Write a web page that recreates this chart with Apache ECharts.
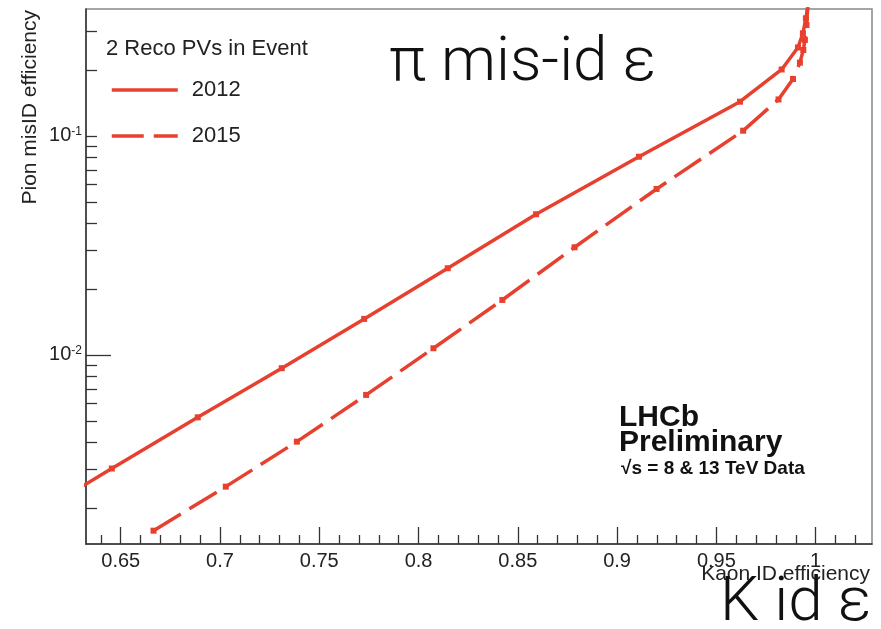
<!DOCTYPE html>
<html><head><meta charset="utf-8">
<script src="https://cdn.jsdelivr.net/npm/echarts@6/dist/echarts.min.js"></script>
<style>html,body{margin:0;padding:0;background:#fff}#c{width:881px;height:629px}</style>
</head><body><div id="c"></div>
<script>
// ---- data ----
const seriesNames = ['2012', '2015'];
const x2012 = [0.6245, 0.6455, 0.6888, 0.7311, 0.7726, 0.8147, 0.8592, 0.9110, 0.9619, 0.9829, 0.9911, 0.9936, 0.9951, 0.9962];
const y2012 = [0.00233, 0.00303, 0.00519, 0.00870, 0.01461, 0.02488, 0.04391, 0.0804, 0.1434, 0.2012, 0.2536, 0.2944, 0.3446, 0.40];
const x2015 = [0.6665, 0.7029, 0.7387, 0.7736, 0.8075, 0.8422, 0.8786, 0.9199, 0.9635, 0.9813, 0.9886, 0.9921, 0.9938, 0.9946, 0.9954, 0.9962];
const y2015 = [0.001576, 0.002504, 0.004019, 0.006568, 0.01073, 0.01783, 0.03102, 0.05728, 0.1057, 0.1468, 0.182, 0.2162, 0.247, 0.2745, 0.321, 0.40];
const xTickLabels = [0.65, 0.7, 0.75, 0.8, 0.85, 0.9, 0.95, 1];
const yTickLabels = [0.01, 0.1];
const xRange = [0.6325, 1.0284];
const yRange = [0.00137, 0.38];

// ---- helpers ----
const zip = (xs, ys) => xs.map((x, i) => [x, ys[i]]);
const xMinor = [];
for (let i = Math.ceil(xRange[0] * 100); i <= Math.floor(xRange[1] * 100); i++) {
  if (i % 5 !== 0) xMinor.push(i / 100);
}
const yMinorLog = [];
for (let n = -3; n <= -1; n++) {
  for (let k = 1; k <= 9; k++) {
    const v = k * Math.pow(10, n);
    if (v >= yRange[0] && v <= yRange[1] && !(n === -2 && k === 1)) yMinorLog.push(Math.log10(v));
  }
}
const FONT = '"Liberation Sans", Arial, sans-serif';
const RED = '#e8402f';

const chart = echarts.init(document.getElementById('c'), null, {renderer: 'canvas'});
chart.setOption({
  animation: false,
  backgroundColor: '#fff',
  grid: {left: 86, right: 9, top: 9, bottom: 85, containLabel: false, outerBoundsMode: 'none',
    show: true, borderColor: '#888', borderWidth: 1.5, backgroundColor: 'transparent'},
  legend: {
    orient: 'vertical', left: 105, top: 74, itemWidth: 66, itemHeight: 14, itemGap: 24,
    selectedMode: false,
    textStyle: {fontSize: 22, fontFamily: FONT, color: '#222', padding: [0, 0, 0, 9], lineHeight: 22},
    itemStyle: {opacity: 0},
    lineStyle: {width: 3.5},
    data: seriesNames
  },
  xAxis: [{
    type: 'value', min: xRange[0], max: xRange[1],
    axisLine: {show: true, onZero: false, lineStyle: {color: '#333', width: 1.5}},
    axisTick: {show: true, inside: true, length: 17, customValues: xTickLabels, lineStyle: {color: '#333', width: 1.3}},
    axisLabel: {show: true, customValues: xTickLabels, margin: 7, fontSize: 20, fontFamily: FONT, color: '#222',
      formatter: v => String(parseFloat(Number(v).toFixed(2)))},
    splitLine: {show: false}
  }, {
    type: 'value', min: xRange[0], max: xRange[1], position: 'bottom', offset: 0,
    axisLine: {show: false}, axisLabel: {show: false}, splitLine: {show: false},
    axisTick: {show: true, inside: true, length: 9, customValues: xMinor, lineStyle: {color: '#333', width: 1.3}}
  }],
  yAxis: [{
    type: 'log', logBase: 10, min: yRange[0], max: yRange[1], position: 'left', offset: 0,
    axisLine: {show: true, onZero: false, lineStyle: {color: '#333', width: 1.5}},
    axisTick: {show: false},
    splitLine: {show: false},
    axisLabel: {
      show: true, margin: 4, fontFamily: FONT, color: '#222',
      formatter: v => {
        const l = Math.log10(v), e = Math.round(l);
        if (Math.abs(l - e) > 1e-6) return '';
        if (!yTickLabels.some(t => Math.abs(t - Math.pow(10, e)) < 1e-12)) return '';
        return '{b|10}{s|' + e + '}';
      },
      rich: {
        b: {fontSize: 20, fontFamily: FONT, color: '#222'},
        s: {fontSize: 12, fontFamily: FONT, color: '#222', verticalAlign: 'top', padding: [0, 0, 6, 0]}
      }
    }
  }, {
    type: 'value', min: Math.log10(yRange[0]), max: Math.log10(yRange[1]), position: 'left', offset: 0,
    axisLine: {show: false}, axisLabel: {show: false}, splitLine: {show: false},
    axisTick: {show: true, inside: true, length: 11, customValues: yMinorLog, lineStyle: {color: '#333', width: 1.3}}
  }, {
    type: 'value', min: Math.log10(yRange[0]), max: Math.log10(yRange[1]), position: 'left', offset: 0,
    axisLine: {show: false}, axisLabel: {show: false}, splitLine: {show: false},
    axisTick: {show: true, inside: true, length: 25, customValues: yTickLabels.filter(t => t < 0.05).map(t => Math.log10(t)), lineStyle: {color: '#333', width: 1.3}}
  }],
  series: [{
    name: seriesNames[0], type: 'line', data: zip(x2012, y2012), clip: true,
    symbol: 'rect', symbolSize: 6, showSymbol: true,
    lineStyle: {color: RED, width: 3.5, type: 'solid'},
    itemStyle: {color: RED}
  }, {
    name: seriesNames[1], type: 'line', data: zip(x2015, y2015), clip: true,
    symbol: 'rect', symbolSize: 6, showSymbol: true,
    lineStyle: {color: RED, width: 3.5, type: [32, 10]},
    itemStyle: {color: RED}
  }],
  graphic: [
    {type: 'text', x: 30, y: 10, rotation: Math.PI / 2,
      style: {text: 'Pion misID efficiency', font: '21px ' + FONT, fill: '#222', align: 'right', verticalAlign: 'middle'}},
    {type: 'text', x: 870, y: 574,
      style: {text: 'Kaon ID efficiency', font: '21px ' + FONT, fill: '#222', align: 'right', verticalAlign: 'middle'}},
    {type: 'text', x: 106, y: 49,
      style: {text: '2 Reco PVs in Event', font: '22px ' + FONT, fill: '#222', align: 'left', verticalAlign: 'middle'}},
    {type: 'text', x: 619, y: 417.5,
      style: {text: 'LHCb', font: 'bold 30px ' + FONT, fill: '#111', align: 'left', verticalAlign: 'middle'}},
    {type: 'text', x: 619, y: 443,
      style: {text: 'Preliminary', font: 'bold 30px ' + FONT, fill: '#111', align: 'left', verticalAlign: 'middle'}},
    {type: 'text', x: 621, y: 469,
      style: {text: '\u221As = 8 & 13 TeV Data', font: 'bold 19px ' + FONT, fill: '#111', align: 'left', verticalAlign: 'middle'}},
    {type: 'text', x: 389, y: 64,
      style: {text: '\u03C0 mis-id \u03B5', font: '300 62px Roboto, Lato, "Open Sans", sans-serif', fill: '#111', align: 'left', verticalAlign: 'middle'}},
    {type: 'text', x: 720, y: 604,
      style: {text: 'K id \u03B5', font: '300 62px Roboto, Lato, "Open Sans", sans-serif', fill: '#111', align: 'left', verticalAlign: 'middle'}}
  ]
});
</script>
</body></html>
